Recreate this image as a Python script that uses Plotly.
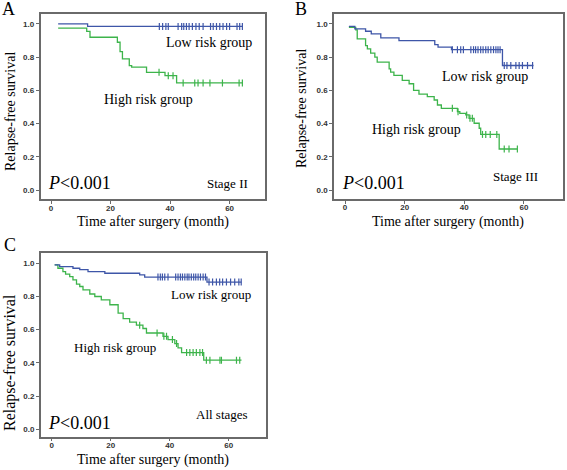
import plotly.graph_objects as go

# ---------------- data ----------------
A_low_t = [2.4, 12.3, 64.5]
A_low_s = [1.0, 0.985, 0.985]
A_low_cens = [36.4, 37.5, 38.6, 39.4, 42.7, 43.9, 44.6, 45.5, 46.4, 47.5, 48.7, 49.8, 51.1,
              53.6, 54.5, 55.6, 56.7, 57.8, 59.0, 60.0, 62.5, 63.4, 64.3]
A_high_t = [2.4, 12.0, 13.1, 22.3, 23.2, 24.0, 26.3, 27.1, 32.1, 38.3, 42.2, 64.5]
A_high_s = [0.975, 0.955, 0.92, 0.89, 0.833, 0.79, 0.749, 0.74, 0.709, 0.689, 0.645, 0.645]
A_high_cens = [36.3, 39.4, 41.0, 44.4, 48.3, 49.4, 51.1, 53.4, 57.6, 63.2, 64.3]

B_low_t = [1.3, 3.3, 6.9, 8.8, 12.0, 18.1, 30.1, 31.2, 35.7, 52.8, 63.2]
B_low_s = [0.985, 0.97, 0.956, 0.94, 0.916, 0.90, 0.875, 0.86, 0.845, 0.75, 0.75]
B_low_cens = [36.0, 37.7, 38.8, 39.7, 42.2, 43.1, 43.8, 44.6, 45.5, 46.3, 47.2, 48.0, 48.9,
              49.8, 50.6, 51.3, 52.0, 53.4, 54.3, 55.6, 57.3, 58.4, 59.5, 61.2, 62.9]
B_high_t = [1.3, 3.6, 4.1, 6.9, 7.5, 8.6, 10.0, 10.8, 14.8, 15.3, 16.4, 19.2, 21.5, 23.0,
            24.8, 27.6, 29.9, 31.0, 32.3, 37.7, 38.5, 40.5, 41.6, 43.3, 45.0, 45.5, 51.7, 57.8]
B_high_s = [0.98, 0.965, 0.91, 0.87, 0.85, 0.825, 0.80, 0.77, 0.73, 0.71, 0.69, 0.66, 0.64, 0.60,
            0.578, 0.562, 0.542, 0.512, 0.492, 0.472, 0.462, 0.452, 0.432, 0.402, 0.372, 0.335,
            0.247, 0.247]
B_high_cens = [36.0, 37.9, 40.8, 41.9, 42.7, 46.1, 47.2, 48.7, 50.9, 53.4, 55.0, 57.8]

C_low_t = [1.0, 2.7, 7.2, 9.5, 12.3, 18.0, 29.8, 31.5, 52.6, 64.3]
C_low_s = [0.99, 0.98, 0.97, 0.962, 0.95, 0.94, 0.93, 0.917, 0.887, 0.887]
C_low_cens = [36.0, 36.8, 37.5, 38.3, 39.4, 42.0, 42.8, 43.6, 44.3, 45.1, 45.9, 46.5, 47.3,
              48.1, 48.8, 49.6, 50.4, 51.3, 52.1, 53.3, 54.5, 55.8, 56.9, 57.9, 59.2, 60.6,
              62.0, 63.4, 64.2]
C_high_t = [1.0, 2.1, 3.8, 4.7, 6.1, 7.2, 8.4, 9.5, 10.6, 12.9, 14.6, 16.8, 19.7, 22.5, 24.2,
            26.4, 28.7, 30.9, 32.1, 37.7, 39.4, 41.7, 42.8, 44.0, 51.5, 64.3]
C_high_s = [0.99, 0.97, 0.95, 0.935, 0.92, 0.90, 0.875, 0.86, 0.84, 0.815, 0.80, 0.78, 0.75,
            0.70, 0.667, 0.646, 0.627, 0.607, 0.58, 0.56, 0.54, 0.516, 0.49, 0.462, 0.416, 0.416]
C_high_cens = [29.8, 35.7, 38.0, 38.9, 40.9, 42.3, 45.7, 46.8, 47.9, 49.0, 50.2, 51.1, 52.4,
               53.6, 57.0, 57.5, 62.6, 63.7]

x_ticks = [0, 20, 40, 60]
y_ticks = [0.0, 0.2, 0.4, 0.6, 0.8, 1.0]
x_title = "Time after surgery (month)"
y_title = "Relapse-free survival"
panel_letters = ["A", "B", "C"]
stage_labels = ["Stage II", "Stage III", "All stages"]

BLUE = "#3E56A8"
GREEN = "#3DB44B"
SERIF = "Times New Roman, Liberation Serif, serif"
SANS = "Arial, Liberation Sans, sans-serif"


def surv_at(ts, ss, t):
    val = ss[0]
    for ti, si in zip(ts, ss):
        if ti <= t:
            val = si
    return val


fig = go.Figure()

panels = [
    ("x", "y", A_low_t, A_low_s, A_low_cens, A_high_t, A_high_s, A_high_cens),
    ("x2", "y2", B_low_t, B_low_s, B_low_cens, B_high_t, B_high_s, B_high_cens),
    ("x3", "y3", C_low_t, C_low_s, C_low_cens, C_high_t, C_high_s, C_high_cens),
]

for xa, ya, lt, ls, lc, ht, hs, hc in panels:
    for ts, ss, cs, col in [(ht, hs, hc, GREEN), (lt, ls, lc, BLUE)]:
        fig.add_trace(go.Scatter(x=ts, y=ss, mode="lines", line=dict(color=col, width=1.3, shape="hv"),
                                 xaxis=xa, yaxis=ya, showlegend=False, hoverinfo="skip"))
        fig.add_trace(go.Scatter(x=cs, y=[surv_at(ts, ss, c) for c in cs], mode="markers",
                                 marker=dict(symbol="line-ns", size=5, line=dict(color=col, width=1.2)),
                                 xaxis=xa, yaxis=ya, showlegend=False, hoverinfo="skip"))

W, H = 567, 470
domains = {
    "": dict(x=[40.5 / W, 265 / W], y=[1 - 199.3 / H, 1 - 14 / H], xr=[-3.53, 71.9], yr=[-0.055, 1.060]),
    "2": dict(x=[334 / W, 563 / W], y=[1 - 199 / H, 1 - 14 / H], xr=[-3.69, 73.1], yr=[-0.054, 1.060]),
    "3": dict(x=[40.7 / W, 266 / W], y=[1 - 436.7 / H, 1 - 253 / H], xr=[-3.73, 72.6], yr=[-0.045, 1.062]),
}

axis_common = dict(showgrid=False, zeroline=False, showline=True, mirror=True, linecolor="#6a6a6a",
                   linewidth=1.5, ticks="outside", ticklen=3, tickwidth=1, tickcolor="#6a6a6a",
                   automargin=False,
                   tickfont=dict(family=SANS, size=8, color="#333333", weight="bold"))

layout = dict(width=W, height=H, margin=dict(l=0, r=0, t=0, b=0, pad=0), paper_bgcolor="white",
              plot_bgcolor="white", showlegend=False)
for k, d in domains.items():
    layout["xaxis" + k] = dict(domain=d["x"], range=d["xr"], tickvals=x_ticks, anchor="y" + k,
                               ticklabelstandoff=-3, **axis_common)
    layout["yaxis" + k] = dict(domain=d["y"], range=d["yr"], tickvals=y_ticks, tickformat=".1f",
                               anchor="x" + k, **axis_common)
fig.update_layout(**layout)


def ann(text, x, y, size, angle=0):
    fig.add_annotation(text=text, x=x / W, y=1 - y / H, xref="paper", yref="paper", showarrow=False,
                       xanchor="center", yanchor="middle", textangle=angle,
                       font=dict(family=SERIF, size=size, color="black"))

# panel letters
ann(panel_letters[0], 8, 9, 18)
ann(panel_letters[1], 301, 9, 18)
ann(panel_letters[2], 10, 245, 18)
# axis titles
ann(x_title, 153, 222, 14)
ann(x_title, 448, 222, 14)
ann(x_title, 153, 460, 14)
ann(y_title, 10, 112, 14, -90)
ann(y_title, 302, 109, 14, -90)
ann(y_title, 10, 363, 16, -90)
# group labels
ann("Low risk group", 209, 43, 14)
ann("High risk group", 148, 99, 14)
ann("Low risk group", 485, 77, 14)
ann("High risk group", 416, 129, 14)
ann("Low risk group", 211, 294, 13)
ann("High risk group", 115, 347, 13)
# p-values
for (x, y) in [(79, 183), (373, 183), (79, 423)]:
    ann("<i>P</i>&lt;0.001", x, y, 18)
# stages
ann(stage_labels[0], 227, 183, 13)
ann(stage_labels[1], 515, 176, 13)
ann(stage_labels[2], 222, 414, 13)

fig.write_html("out.html", config={"displayModeBar": False},
               post_script="document.body.style.margin='0';document.body.style.overflow='hidden';")
